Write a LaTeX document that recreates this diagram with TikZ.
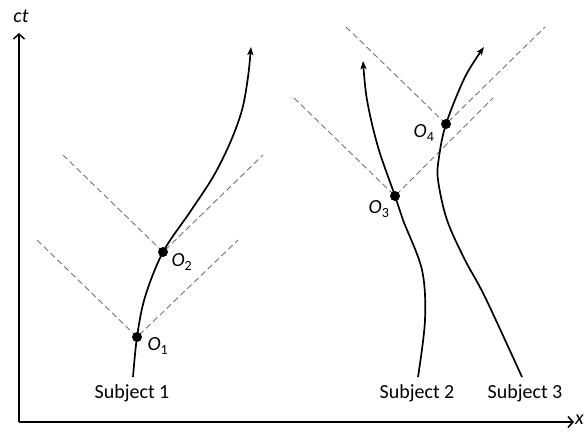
\documentclass[tikz,border=0pt]{standalone}
\usepackage{fontspec}
\setmainfont{Carlito}
\usetikzlibrary{arrows.meta}
\begin{document}
\begin{tikzpicture}[x=1pt,y=-1pt,
  axis/.style={line width=1.6pt, -{Straight Barb[length=5pt,width=11pt,line width=1.5pt]}},
  world/.style={line width=1.7pt, -{Stealth[length=8pt,width=6pt,inset=1.5pt]}},
  cone/.style={black!55, line width=0.9pt, dash pattern=on 6pt off 3.5pt},
  event/.style={circle, fill=black, inner sep=0pt, minimum size=10pt},
  lbl/.style={font=\fontsize{20}{23}\selectfont, inner sep=0pt},
  ]
\useasboundingbox (0,0) rectangle (585,432);

% axes
\coordinate (orig) at (19,422);
\coordinate (ytip) at (19,33);
\coordinate (xtip) at (574,422);
\draw[axis] (orig) -- (ytip);
\draw[axis] (orig) -- (xtip);
\node[lbl, anchor=center] (ct) at (21,16) {\itshape ct};
\node[lbl, anchor=west] (xl) at (575,420) {\itshape x};

% events
\coordinate (e1) at (137,337);
\coordinate (e2) at (163,252);
\coordinate (e3) at (395,196);
\coordinate (e4) at (446,124);

% light cones
\coordinate (c1l) at (37,240);  \coordinate (c1r) at (238,240);
\coordinate (c2l) at (63,155);  \coordinate (c2r) at (263,155);
\coordinate (c3l) at (294,98);  \coordinate (c3r) at (493,98);
\coordinate (c4l) at (346,27);  \coordinate (c4r) at (545,27);
\draw[cone] (c1l) -- (e1) -- (c1r);
\draw[cone] (c2l) -- (e2) -- (c2r);
\draw[cone] (c3l) -- (e3) -- (c3r);
\draw[cone] (c4l) -- (e4) -- (c4r);

% world lines
\coordinate (s1) at (133,377);
\coordinate (t1) at (251,47);
\coordinate (s2) at (418,377);
\coordinate (t2) at (363,61);
\coordinate (s3) at (522,377);
\coordinate (t3) at (484,47);

\draw[world] plot[smooth, tension=0.55] coordinates {(s1) (e1) (145,297) (e2) (190,212) (213,177) (230,143) (242,110) (248,77) (t1)};
\draw[world] plot[smooth, tension=0.55] coordinates {(s2) (425,320) (422,270) (403,220) (e3) (378,147) (367,100) (t2)};
\draw[world] plot[smooth, tension=0.55] coordinates {(s3) (485,297) (465,260) (447,220) (438,180) (439,157) (e4) (465,77) (t3)};

% event dots
\node[event] (O1) at (e1) {};
\node[event] (O2) at (e2) {};
\node[event] (O3) at (e3) {};
\node[event] (O4) at (e4) {};

% labels
\node[lbl] (l1) at (158,346) {\textit{O}\textsubscript{1}};
\node[lbl] (l2) at (182,262) {\textit{O}\textsubscript{2}};
\node[lbl] (l3) at (379,209) {\textit{O}\textsubscript{3}};
\node[lbl] (l4) at (424,133) {\textit{O}\textsubscript{4}};

\node[lbl] (n1) at (132,393) {Subject 1};
\node[lbl] (n2) at (417,393) {Subject 2};
\node[lbl] (n3) at (525,393) {Subject 3};
\end{tikzpicture}
\end{document}
